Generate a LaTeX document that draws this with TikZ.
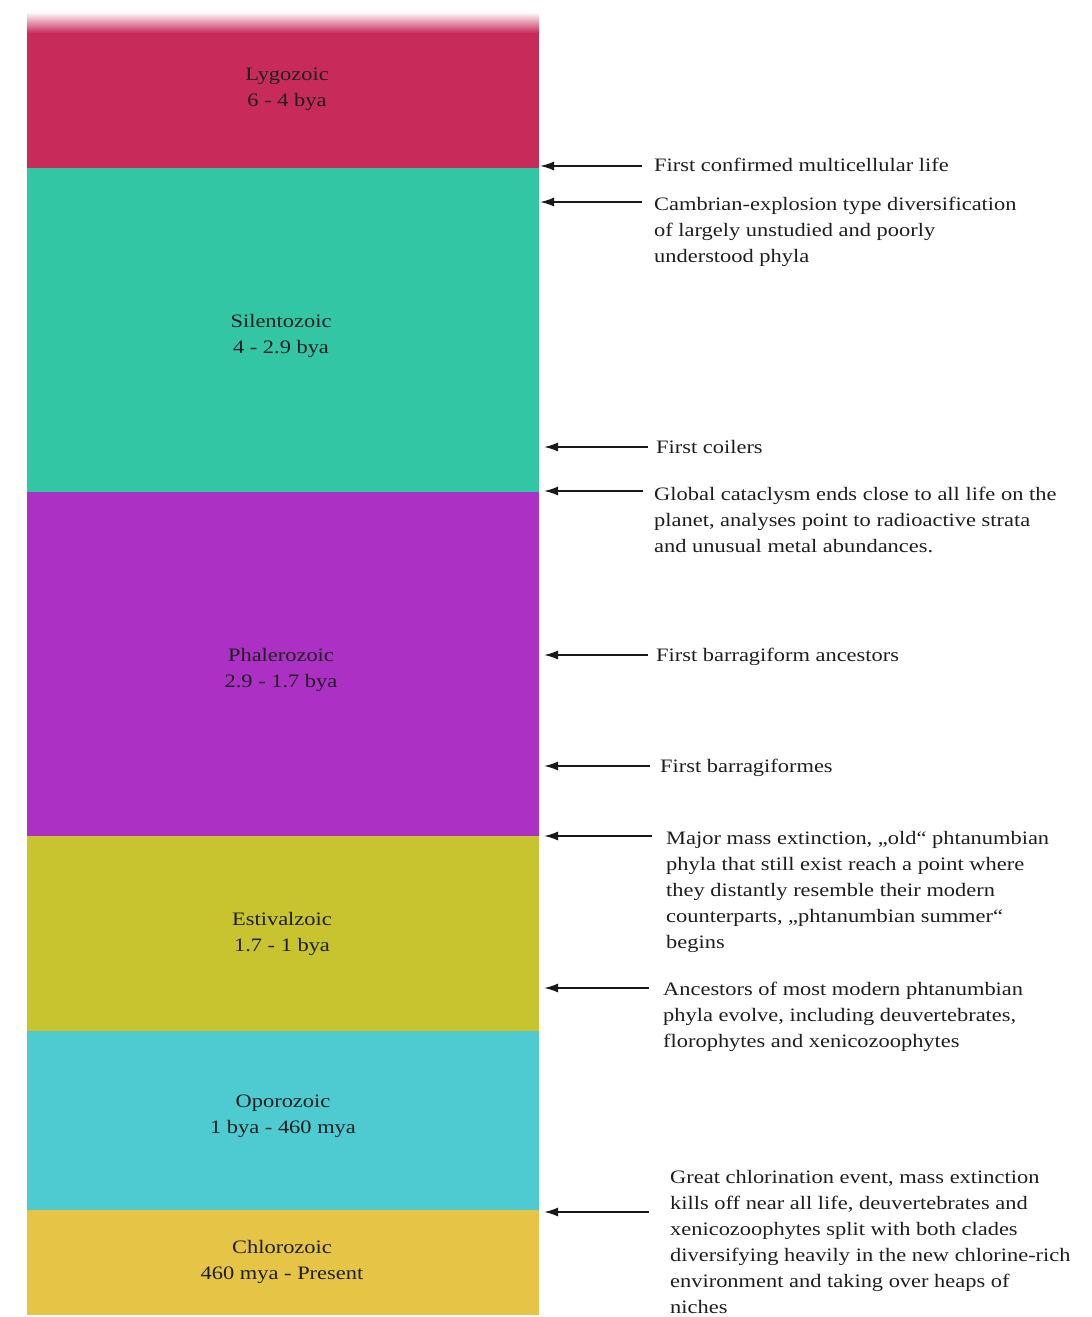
\documentclass[tikz,border=0pt]{standalone}
\usepackage{fontspec}
\setmainfont{Liberation Serif}[FakeStretch=1.18]
\usetikzlibrary{arrows.meta}
\definecolor{cLyg}{HTML}{C82B5A}
\definecolor{cSil}{HTML}{33C6A4}
\definecolor{cPha}{HTML}{AC30C4}
\definecolor{cEst}{HTML}{C8C42F}
\definecolor{cOpo}{HTML}{4DCBD0}
\definecolor{cChl}{HTML}{E5C446}
\definecolor{cTxt}{HTML}{1E1E1E}
\tikzset{
  eralabel/.style={align=center, text=cTxt, font=\fontsize{19}{26}\selectfont, inner sep=0pt},
  note/.style={anchor=north west, align=left, text=cTxt, font=\fontsize{19}{26}\selectfont, inner sep=0pt},
  arr/.style={draw=black!90, line width=1.8pt, -{Latex[length=14pt,width=9pt]}}
}
\begin{document}
\begin{tikzpicture}[x=1pt,y=-1pt]
\useasboundingbox (0,0) rectangle (1092,1317);
\fill[white] (0,0) rectangle (1092,1317);
% bands
\shade[top color=white, bottom color=cLyg] (27,12) rectangle (539,33);
\fill[cLyg] (27,32.5) rectangle (539,168);
\fill[cSil] (27,168) rectangle (539,492);
\fill[cPha] (27,492) rectangle (539,836);
\fill[cEst] (27,836) rectangle (539,1031);
\fill[cOpo] (27,1031) rectangle (539,1210);
\fill[cChl] (27,1210) rectangle (539,1315);
% era labels
\node[eralabel] (lyg) at (287,89) {Lygozoic\\6 - 4 bya};
\node[eralabel] (sil) at (281,336) {Silentozoic\\4 - 2.9 bya};
\node[eralabel] (pha) at (281,670) {Phalerozoic\\2.9 - 1.7 bya};
\node[eralabel] (est) at (282,934) {Estivalzoic\\1.7 - 1 bya};
\node[eralabel] (opo) at (283,1116) {Oporozoic\\1 bya - 460 mya};
\node[eralabel] (chl) at (282,1262) {Chlorozoic\\460 mya - Present};
% notes
\node[note] (n1) at (654,158) {First confirmed multicellular life};
\node[note] (n2) at (654,197) {Cambrian-explosion type diversification\\of largely unstudied and poorly\\understood phyla};
\node[note] (n3) at (656,440) {First coilers};
\node[note] (n4) at (654,487) {Global cataclysm ends close to all life on the\\planet, analyses point to radioactive strata\\and unusual metal abundances.};
\node[note] (n5) at (656,648) {First barragiform ancestors};
\node[note] (n6) at (660,759) {First barragiformes};
\node[note] (n7) at (666,831) {Major mass extinction, „old“ phtanumbian\\phyla that still exist reach a point where\\they distantly resemble their modern\\counterparts, „phtanumbian summer“\\begins};
\node[note] (n8) at (663,982) {Ancestors of most modern phtanumbian\\phyla evolve, including deuvertebrates,\\florophytes and xenicozoophytes};
\node[note] (n9) at (670,1170) {Great chlorination event, mass extinction\\kills off near all life, deuvertebrates and\\xenicozoophytes split with both clades\\diversifying heavily in the new chlorine-rich\\environment and taking over heaps of\\niches};
% arrows
\coordinate (s1) at (642,166); \coordinate (e1) at (540,166);
\coordinate (s2) at (642,202); \coordinate (e2) at (540,202);
\coordinate (s3) at (648,447); \coordinate (e3) at (544,447);
\coordinate (s4) at (643,491); \coordinate (e4) at (544,491);
\coordinate (s5) at (648,655); \coordinate (e5) at (544,655);
\coordinate (s6) at (650,766); \coordinate (e6) at (544,766);
\coordinate (s7) at (652,836); \coordinate (e7) at (544,836);
\coordinate (s8) at (649,988); \coordinate (e8) at (544,988);
\coordinate (s9) at (649,1212); \coordinate (e9) at (544,1212);
\foreach \i in {1,...,9} {\draw[arr] (s\i) -- (e\i);}
\end{tikzpicture}
\end{document}
